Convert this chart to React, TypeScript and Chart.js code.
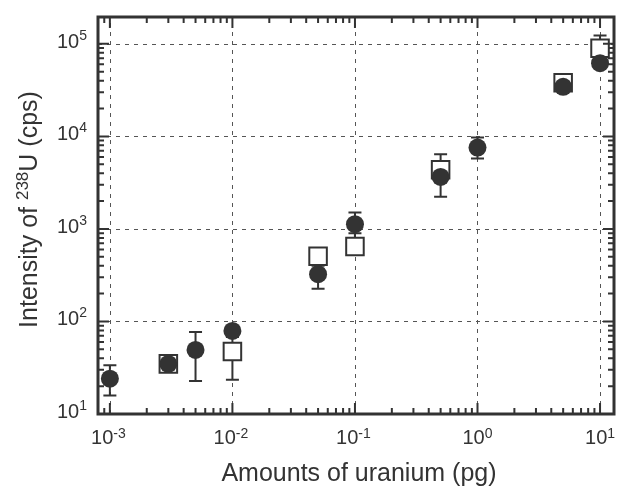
import React, { useEffect, useRef } from 'react';
import { Chart, registerables } from 'chart.js';

Chart.register(...registerables);

// ---- data ----
const amounts = [0.001, 0.003, 0.005, 0.01, 0.05, 0.1, 0.5, 1, 5, 10];
const circleValues = [24.1, 34.8, 49.2, 78.9, 324, 1125, 3650, 7570, 34300, 61800];
const circleLow = [15.8, 32.5, 22.7, 72, 226, 650, 2220, 5750, 32000, 57000];
const circleHigh = [33.6, 37.5, 76.9, 86, 400, 1500, 4300, 9700, 37000, 67000];
const squareValues = [null, 34.8, null, 47.4, 507, 647, 4365, null, 37900, 89400];
const squareLow = [null, 33.5, null, 23.5, 485, 610, 4100, null, 36000, 84000];
const squareHigh = [null, 36.5, null, 68, 530, 900, 6430, null, 40500, 123000];
const xDecades = [-3, -2, -1, 0, 1];
const yDecades = [1, 2, 3, 4, 5];
const xTitle = 'Amounts of uranium (pg)';
const yTitleParts = ['Intensity of ', '238', 'U (cps)'];

const X_MIN = 8e-4;
const X_MAX = 13;
const Y_MIN = 10;
const Y_MAX = 1.95e5;

const INK = '#333333';
const FONT = '"Liberation Sans", Arial, Helvetica, sans-serif';

function buildPoints(vals: (number | null)[]) {
  const pts: { x: number; y: number }[] = [];
  vals.forEach((v, i) => {
    if (v != null) pts.push({ x: amounts[i], y: v });
  });
  return pts;
}

const axesPlugin = {
  id: 'customAxes',
  beforeDatasetsDraw(chart: any) {
    const { ctx, chartArea, scales } = chart;
    const xs = scales.x;
    const ys = scales.y;
    ctx.save();
    // grid
    ctx.strokeStyle = '#555';
    ctx.lineWidth = 1;
    ctx.setLineDash([4, 5]);
    xDecades.forEach((d) => {
      const v = Math.pow(10, d);
      const px = Math.round(xs.getPixelForValue(v)) + 0.5;
      ctx.beginPath();
      ctx.moveTo(px, chartArea.bottom);
      ctx.lineTo(px, chartArea.top);
      ctx.stroke();
    });
    yDecades.forEach((d) => {
      const v = Math.pow(10, d);
      const py = Math.round(ys.getPixelForValue(v)) + 0.5;
      ctx.beginPath();
      ctx.moveTo(chartArea.left, py);
      ctx.lineTo(chartArea.right, py);
      ctx.stroke();
    });
    ctx.setLineDash([]);
    // error bars
    ctx.strokeStyle = INK;
    ctx.lineWidth = 2;
    const cap = 6.5;
    const drawBar = (xv: number, lo: number, hi: number) => {
      const px = xs.getPixelForValue(xv);
      const pl = ys.getPixelForValue(lo);
      const ph = ys.getPixelForValue(hi);
      ctx.beginPath();
      ctx.moveTo(px, pl);
      ctx.lineTo(px, ph);
      ctx.moveTo(px - cap, pl);
      ctx.lineTo(px + cap, pl);
      ctx.moveTo(px - cap, ph);
      ctx.lineTo(px + cap, ph);
      ctx.stroke();
    };
    amounts.forEach((a, i) => {
      if (squareValues[i] != null) drawBar(a, squareLow[i] as number, squareHigh[i] as number);
      drawBar(a, circleLow[i], circleHigh[i]);
    });
    ctx.restore();
  },
  afterDatasetsDraw(chart: any) {
    const { ctx, chartArea, scales } = chart;
    const xs = scales.x;
    const ys = scales.y;
    const { left, right, top, bottom } = chartArea;
    ctx.save();
    ctx.strokeStyle = INK;
    // ticks
    ctx.lineWidth = 2;
    const major = 11;
    const minor = 6;
    for (let d = -4; d <= 1; d++) {
      for (let m = 1; m <= 9; m++) {
        const v = m * Math.pow(10, d);
        if (v < X_MIN * 0.999 || v > X_MAX * 1.001) continue;
        const px = xs.getPixelForValue(v);
        const len = m === 1 ? major : minor;
        ctx.beginPath();
        ctx.moveTo(px, bottom);
        ctx.lineTo(px, bottom - len);
        ctx.moveTo(px, top);
        ctx.lineTo(px, top + len);
        ctx.stroke();
      }
    }
    for (let d = 1; d <= 5; d++) {
      for (let m = 1; m <= 9; m++) {
        const v = m * Math.pow(10, d);
        if (v < Y_MIN * 0.999 || v > Y_MAX * 1.001) continue;
        const py = ys.getPixelForValue(v);
        const len = m === 1 ? major : minor;
        ctx.beginPath();
        ctx.moveTo(left, py);
        ctx.lineTo(left + len, py);
        ctx.moveTo(right, py);
        ctx.lineTo(right - len, py);
        ctx.stroke();
      }
    }
    // frame
    ctx.lineWidth = 3;
    ctx.strokeRect(left, top, right - left, bottom - top);

    // tick labels
    ctx.fillStyle = INK;
    ctx.textBaseline = 'alphabetic';
    const mainFont = `20px ${FONT}`;
    const expFont = `14px ${FONT}`;
    xDecades.forEach((d) => {
      const px = xs.getPixelForValue(Math.pow(10, d));
      const exp = String(d);
      ctx.font = mainFont;
      const w10 = ctx.measureText('10').width;
      ctx.font = expFont;
      const we = ctx.measureText(exp).width;
      const start = px - (w10 + we) / 2 - (d < 0 ? 1.5 : 0);
      ctx.textAlign = 'left';
      ctx.font = mainFont;
      ctx.fillText('10', start, 444);
      ctx.font = expFont;
      ctx.fillText(exp, start + w10, 438);
    });
    yDecades.forEach((d) => {
      const py = ys.getPixelForValue(Math.pow(10, d));
      const exp = String(d);
      ctx.textAlign = 'right';
      ctx.font = expFont;
      const we = ctx.measureText(exp).width;
      ctx.fillText(exp, 87, py - 4);
      ctx.font = mainFont;
      ctx.fillText('10', 87 - we, py + 4);
    });

    // x title
    ctx.textAlign = 'center';
    ctx.font = `25px ${FONT}`;
    ctx.fillText(xTitle, 359, 481);

    // y title (rotated, with superscript)
    ctx.save();
    ctx.translate(36.5, 209.5);
    ctx.rotate(-Math.PI / 2);
    ctx.textAlign = 'left';
    const tf = `25px ${FONT}`;
    const sf = `17px ${FONT}`;
    ctx.font = tf;
    const w1 = ctx.measureText(yTitleParts[0]).width;
    const w3 = ctx.measureText(yTitleParts[2]).width;
    ctx.font = sf;
    const w2 = ctx.measureText(yTitleParts[1]).width;
    const total = w1 + w2 + w3;
    let cx = -total / 2;
    ctx.font = tf;
    ctx.fillText(yTitleParts[0], cx, 0);
    cx += w1;
    ctx.font = sf;
    ctx.fillText(yTitleParts[1], cx, -9);
    cx += w2;
    ctx.font = tf;
    ctx.fillText(yTitleParts[2], cx, 0);
    ctx.restore();

    ctx.restore();
  },
};

export default function App() {
  const canvasRef = useRef<HTMLCanvasElement | null>(null);

  useEffect(() => {
    document.body.style.margin = '0';
    const canvas = canvasRef.current;
    if (!canvas) return;
    const chart = new Chart(canvas, {
      type: 'scatter',
      data: {
        datasets: [
          {
            label: 'filled',
            data: buildPoints(circleValues),
            pointStyle: 'circle',
            pointRadius: 9,
            pointHoverRadius: 9,
            backgroundColor: INK,
            borderColor: INK,
            borderWidth: 0,
          },
          {
            label: 'open',
            data: buildPoints(squareValues),
            pointStyle: 'rect',
            pointRadius: 12.4,
            pointHoverRadius: 12.4,
            backgroundColor: '#ffffff',
            borderColor: INK,
            borderWidth: 2,
          },
        ],
      },
      options: {
        responsive: false,
        animation: false,
        devicePixelRatio: 1,
        layout: { autoPadding: false, padding: { left: 98, right: 3, top: 17, bottom: 72 } },
        plugins: {
          legend: { display: false },
          tooltip: { enabled: false },
        },
        events: [],
        scales: {
          x: { type: 'logarithmic', min: X_MIN, max: X_MAX, display: false },
          y: { type: 'logarithmic', min: Y_MIN, max: Y_MAX, display: false },
        },
      },
      plugins: [axesPlugin],
    });
    return () => chart.destroy();
  }, []);

  return (
    <div style={{ width: 617, height: 486, background: '#fff' }}>
      <canvas ref={canvasRef} width={617} height={486} style={{ display: 'block' }} />
    </div>
  );
}
